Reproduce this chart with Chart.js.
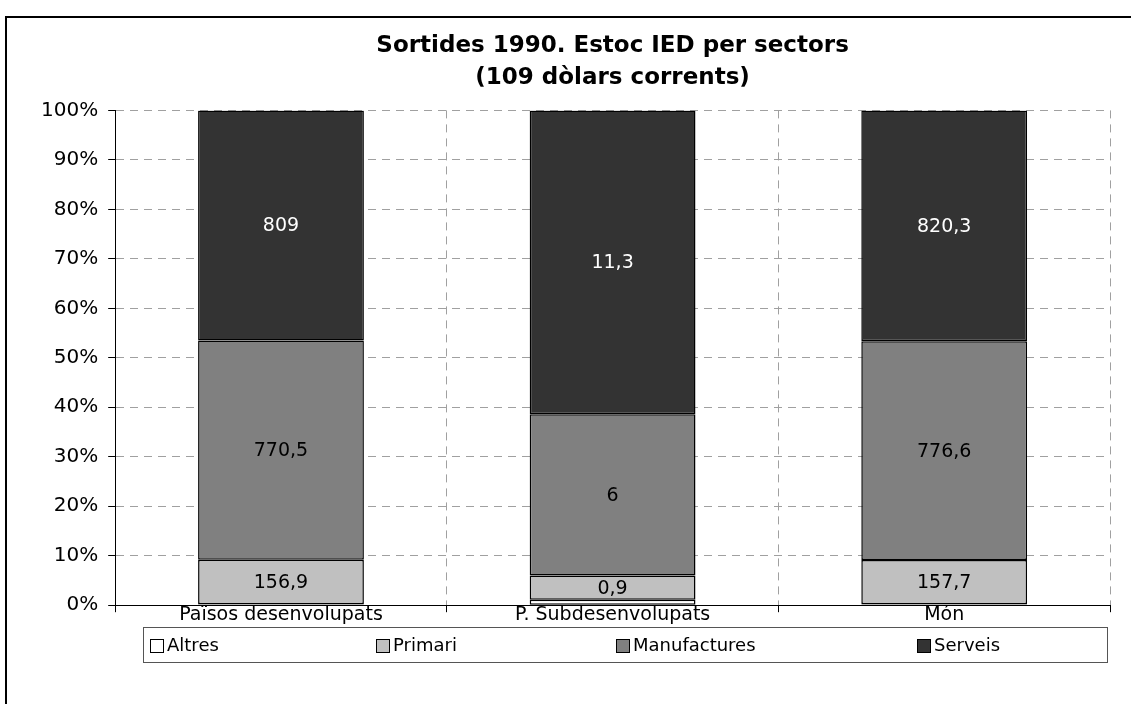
<!DOCTYPE html>
<html>
<head>
<meta charset="utf-8">
<script src="https://cdn.jsdelivr.net/npm/chart.js@4"></script>
<style>
    html, body { margin: 0; padding: 0; background: #fff; }
    #wrap { width: 1131px; height: 704px; position: relative; }
</style>
</head>
<body>
<div id="wrap"><canvas id="grafic"></canvas></div>
<script>
// categories and values (10^9 dollars)
const categories = ["Països desenvolupats", "P. Subdesenvolupats", "Món"];
const seriesNames = ["Altres", "Primari", "Manufactures", "Serveis"];
const altres = [3.0, 0.2, 3.2];
const primari = [156.9, 0.9, 157.7];
const manufactures = [770.5, 6, 776.6];
const serveis = [809, 11.3, 820.3];
const yTicks = [0, 10, 20, 30, 40, 50, 60, 70, 80, 90, 100];

const colors = ["#ffffff", "#c0c0c0", "#808080", "#333333"];
const labelColors = ["#000", "#000", "#000", "#fff"];
const raw = [altres, primari, manufactures, serveis];
const totals = categories.map((c, i) => raw.reduce((s, arr) => s + arr[i], 0));
const FONT = "'DejaVu Sans', Verdana, sans-serif";

const frame = {
    id: "frame",
    beforeDraw(chart) {
        const ctx = chart.ctx;
        ctx.save();
        ctx.fillStyle = "#fff";
        ctx.fillRect(0, 0, chart.width, chart.height);
        ctx.strokeStyle = "#000";
        ctx.lineWidth = 2;
        ctx.beginPath();
        ctx.moveTo(6, chart.height);
        ctx.lineTo(6, 17);
        ctx.lineTo(chart.width, 17);
        ctx.stroke();
        ctx.restore();
    },
};

const valueLabels = {
    id: "valueLabels",
    afterDatasetsDraw(chart) {
        const ctx = chart.ctx;
        ctx.save();
        ctx.font = "19px " + FONT;
        ctx.textAlign = "center";
        ctx.textBaseline = "middle";
        chart.data.datasets.forEach((ds, i) => {
            if (i === 0) return;
            chart.getDatasetMeta(i).data.forEach((bar, j) => {
                ctx.fillStyle = labelColors[i];
                const txt = String(raw[i][j]).replace(".", ",");
                ctx.fillText(txt, bar.x, (bar.y + bar.base) / 2 + 1);
            });
        });
        ctx.restore();
    },
};

const boxLegend = {
    id: "boxLegend",
    afterDraw(chart) {
        const ctx = chart.ctx;
        const xs = [150, 376, 616, 917];
        ctx.save();
        ctx.strokeStyle = "#555";
        ctx.lineWidth = 1;
        ctx.strokeRect(143.5, 627.5, 964, 35);
        ctx.font = "18px " + FONT;
        ctx.textBaseline = "middle";
        ctx.textAlign = "left";
        chart.data.datasets.forEach((ds, i) => {
            ctx.fillStyle = ds.backgroundColor;
            ctx.fillRect(xs[i] + 0.5, 639.5, 13, 13);
            ctx.strokeStyle = "#000";
            ctx.strokeRect(xs[i] + 0.5, 639.5, 13, 13);
            ctx.fillStyle = "#000";
            ctx.fillText(ds.label, xs[i] + 17, 646);
        });
        ctx.restore();
    },
};

new Chart(document.getElementById("grafic"), {
    type: "bar",
    data: {
        labels: categories,
        datasets: seriesNames.map((name, i) => ({
            label: name,
            data: raw[i].map((v, j) => (v / totals[j]) * 100),
            backgroundColor: colors[i],
            borderColor: "#000",
            borderWidth: 1.5,
            borderSkipped: false,
            categoryPercentage: 1,
            barPercentage: 0.5,
        })),
    },
    options: {
        responsive: true,
        maintainAspectRatio: false,
        animation: false,
        layout: { padding: { left: 31, right: 21, top: 30, bottom: 75 } },
        scales: {
            x: {
                stacked: true,
                offset: true,
                afterFit: (scale) => { scale.height += 12; },
                grid: {
                    offset: true,
                    color: "#a0a0a0",
                    tickColor: "#000",
                    tickBorderDash: [],
                    tickLength: 7,
                },
                border: { color: "#000", width: 1, dash: [8, 6] },
                ticks: {
                    font: { family: FONT, size: 19 },
                    color: "#000",
                    padding: -9,
                },
            },
            y: {
                stacked: true,
                min: 0,
                max: 100,
                afterBuildTicks: (axis) => { axis.ticks = yTicks.map((v) => ({ value: v })); },
                grid: {
                    color: "#a0a0a0",
                    tickColor: "#000",
                    tickLength: 7,
                    tickBorderDash: [],
                },
                border: { color: "#000", width: 1, dash: [8, 6] },
                ticks: {
                    font: { family: FONT, size: 20 },
                    color: "#000",
                    padding: 10,
                    callback: (v) => v + "%",
                },
            },
        },
        plugins: {
            legend: { display: false },
            tooltip: { enabled: false },
            title: {
                display: true,
                text: ["Sortides 1990. Estoc IED per sectors", "(109 dòlars corrents)"],
                fullSize: false,
                color: "#000",
                font: { family: FONT, size: 23, weight: "bold", lineHeight: 1.4 },
                padding: { top: 0, bottom: 16 },
            },
        },
    },
    plugins: [frame, valueLabels, boxLegend],
});
</script>
</body>
</html>
